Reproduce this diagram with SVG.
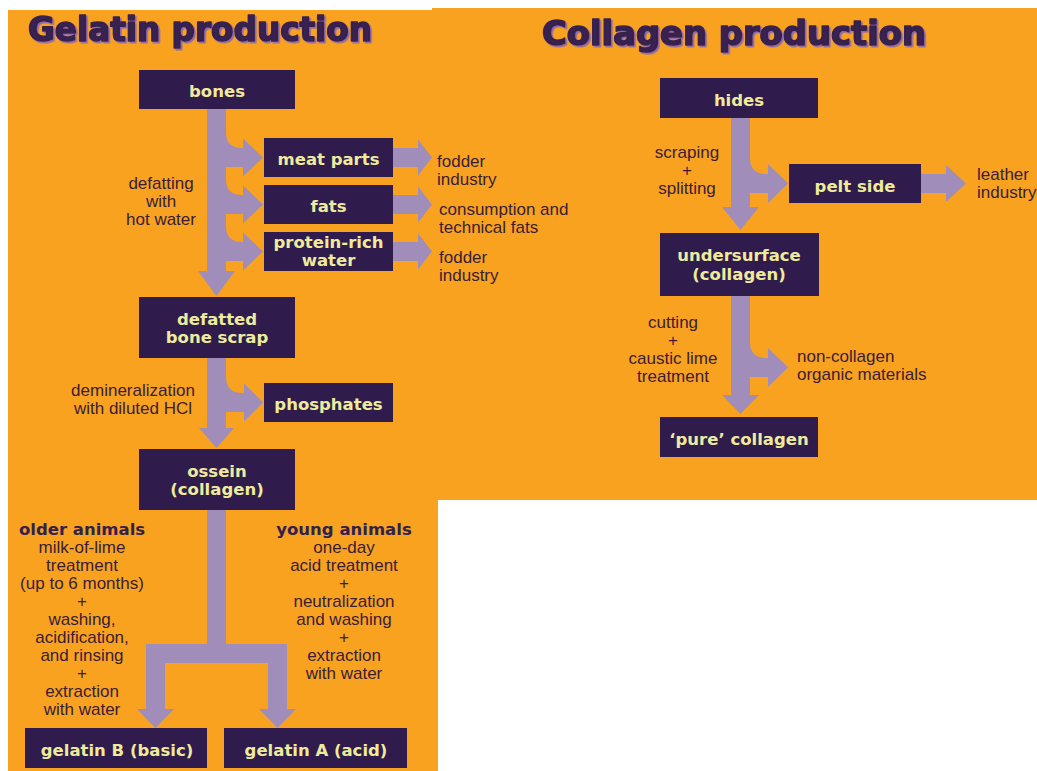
<svg xmlns="http://www.w3.org/2000/svg" width="1037" height="771" viewBox="0 0 1037 771">
<defs>
<style>
.bg{fill:#F8A21F}
.box{fill:#2F1C4C}
.arr{fill:#A08DBA}
.bl{font-family:"DejaVu Sans",sans-serif;font-weight:bold;font-size:16.5px;fill:#EFEB9C;text-anchor:middle}
.lb{font-family:"Liberation Sans",Arial,sans-serif;font-size:17px;fill:#3A1D38}
.mid{text-anchor:middle}
.hd{font-family:"DejaVu Sans",sans-serif;font-weight:bold;font-size:16.5px;fill:#33204F;text-anchor:middle}
.title{font-family:"DejaVu Sans",sans-serif;font-weight:bold;font-size:33px;fill:#38204F;stroke:#38204F;stroke-width:1.6;stroke-linejoin:round;filter:url(#sh)}
</style>
<filter id="sh" x="-5%" y="-20%" width="110%" height="150%">
<feDropShadow dx="1.6" dy="1.6" stdDeviation="0.3" flood-color="#8C68AE" flood-opacity="1"/>
</filter>
</defs>
<rect x="0" y="0" width="1037" height="771" fill="#FFFFFF"/>
<rect class="bg" x="8" y="10" width="430" height="761"/>
<rect class="bg" x="432" y="8" width="605" height="492"/>

<g id="titles">
<text class="title" x="28" y="41" textLength="344" lengthAdjust="spacingAndGlyphs">Gelatin production</text>
<text class="title" x="542" y="45" textLength="384" lengthAdjust="spacingAndGlyphs">Collagen production</text>
</g>

<g id="connectors">
<rect class="arr" x="207" y="109" width="19" height="163"/>
<polygon class="arr" points="198,271 235,271 216.5,296"/>
<path class="arr" d="M226,132 Q226,148 242,148 L244,148 L244,167 L226,167 Z"/>
<polygon class="arr" points="243,138.5 263,157.5 243,176.5"/>
<path class="arr" d="M226,179 Q226,195 242,195 L244,195 L244,214 L226,214 Z"/>
<polygon class="arr" points="243,185.5 263,204.5 243,223.5"/>
<path class="arr" d="M226,226 Q226,242 242,242 L244,242 L244,261 L226,261 Z"/>
<polygon class="arr" points="243,232.5 263,251.5 243,270.5"/>
<rect class="arr" x="393" y="148" width="26" height="19"/>
<polygon class="arr" points="418,139.5 432,157.5 418,175.5"/>
<rect class="arr" x="393" y="195" width="26" height="19"/>
<polygon class="arr" points="418,186.5 432,204.5 418,222.5"/>
<rect class="arr" x="393" y="242" width="26" height="19"/>
<polygon class="arr" points="418,233.5 432,251.5 418,269.5"/>
<rect class="arr" x="207" y="358" width="19" height="71"/>
<polygon class="arr" points="199,428 234,428 216.5,448"/>
<path class="arr" d="M226,376 Q226,393 242,393 L245,393 L245,412 L226,412 Z"/>
<polygon class="arr" points="244,383.5 263,402.5 244,421.5"/>
<rect class="arr" x="207" y="510" width="19" height="140"/>
<rect class="arr" x="146" y="644" width="141" height="19"/>
<rect class="arr" x="146" y="662" width="19" height="48"/>
<polygon class="arr" points="137,709 174,709 155.5,728"/>
<rect class="arr" x="268" y="662" width="19" height="48"/>
<polygon class="arr" points="259,709 296,709 277.5,728"/>
<rect class="arr" x="731" y="118" width="19" height="90"/>
<polygon class="arr" points="722,207 759,207 740.5,230"/>
<path class="arr" d="M750,158 Q750,174 766,174 L769,174 L769,193 L750,193 Z"/>
<polygon class="arr" points="768,164 788,183.5 768,203"/>
<rect class="arr" x="921" y="174" width="26" height="19"/>
<polygon class="arr" points="946,165 966,183.5 946,202"/>
<rect class="arr" x="731" y="296" width="19" height="100"/>
<polygon class="arr" points="722,395 759,395 740.5,414"/>
<path class="arr" d="M750,342 Q750,358 766,358 L769,358 L769,377 L750,377 Z"/>
<polygon class="arr" points="768,348 788,367.5 768,387"/>
</g>

<g id="bones"><rect class="box" x="139" y="70" width="156" height="39"/><text class="bl" x="217" y="97">bones</text></g>
<g id="meat-parts"><rect class="box" x="264" y="138" width="129" height="39"/><text class="bl" x="328.5" y="165">meat parts</text></g>
<g id="fats"><rect class="box" x="264" y="185" width="129" height="39"/><text class="bl" x="328.5" y="212">fats</text></g>
<g id="protein-rich-water"><rect class="box" x="264" y="232" width="129" height="39"/><text class="bl" x="328.5" y="248">protein-rich</text><text class="bl" x="328.5" y="266">water</text></g>
<g id="defatted-bone-scrap"><rect class="box" x="139" y="297" width="156" height="61"/><text class="bl" x="217" y="325">defatted</text><text class="bl" x="217" y="343">bone scrap</text></g>
<g id="phosphates"><rect class="box" x="264" y="383" width="129" height="39"/><text class="bl" x="328.5" y="410">phosphates</text></g>
<g id="ossein"><rect class="box" x="139" y="449" width="156" height="61"/><text class="bl" x="217" y="477">ossein</text><text class="bl" x="217" y="495">(collagen)</text></g>
<g id="gelatin-b"><rect class="box" x="25" y="728" width="182" height="40"/><text class="bl" x="117" y="756">gelatin B (basic)</text></g>
<g id="gelatin-a"><rect class="box" x="224" y="728" width="183" height="40"/><text class="bl" x="316" y="756">gelatin A (acid)</text></g>

<g id="hides"><rect class="box" x="660" y="78" width="158" height="40"/><text class="bl" x="739" y="106">hides</text></g>
<g id="pelt-side"><rect class="box" x="789" y="164" width="132" height="39"/><text class="bl" x="855" y="192">pelt side</text></g>
<g id="undersurface"><rect class="box" x="660" y="233" width="159" height="63"/><text class="bl" x="739" y="261">undersurface</text><text class="bl" x="739" y="280">(collagen)</text></g>
<g id="pure-collagen"><rect class="box" x="660" y="417" width="158" height="40"/><text class="bl" x="739" y="445">‘pure’ collagen</text></g>

<g id="labels">
<text class="lb mid" x="161" y="189">defatting</text>
<text class="lb mid" x="161" y="207">with</text>
<text class="lb mid" x="161" y="225">hot water</text>
<text class="lb" x="437" y="167">fodder</text>
<text class="lb" x="437" y="185">industry</text>
<text class="lb" x="439" y="215">consumption and</text>
<text class="lb" x="439" y="233">technical fats</text>
<text class="lb" x="439" y="263">fodder</text>
<text class="lb" x="439" y="281">industry</text>
<text class="lb mid" x="133" y="396">demineralization</text>
<text class="lb mid" x="133" y="414">with diluted HCl</text>

<text class="hd" x="82" y="535">older animals</text>
<text class="lb mid" x="82" y="553">milk-of-lime</text>
<text class="lb mid" x="82" y="571">treatment</text>
<text class="lb mid" x="82" y="589">(up to 6 months)</text>
<text class="lb mid" x="82" y="607">+</text>
<text class="lb mid" x="82" y="625">washing,</text>
<text class="lb mid" x="82" y="643">acidification,</text>
<text class="lb mid" x="82" y="661">and rinsing</text>
<text class="lb mid" x="82" y="679">+</text>
<text class="lb mid" x="82" y="697">extraction</text>
<text class="lb mid" x="82" y="715">with water</text>

<text class="hd" x="344" y="535">young animals</text>
<text class="lb mid" x="344" y="553">one-day</text>
<text class="lb mid" x="344" y="571">acid treatment</text>
<text class="lb mid" x="344" y="589">+</text>
<text class="lb mid" x="344" y="607">neutralization</text>
<text class="lb mid" x="344" y="625">and washing</text>
<text class="lb mid" x="344" y="643">+</text>
<text class="lb mid" x="344" y="661">extraction</text>
<text class="lb mid" x="344" y="679">with water</text>

<text class="lb mid" x="687" y="158">scraping</text>
<text class="lb mid" x="687" y="176">+</text>
<text class="lb mid" x="687" y="194">splitting</text>
<text class="lb" x="977" y="180">leather</text>
<text class="lb" x="977" y="198">industry</text>
<text class="lb mid" x="673" y="328">cutting</text>
<text class="lb mid" x="673" y="346">+</text>
<text class="lb mid" x="673" y="364">caustic lime</text>
<text class="lb mid" x="673" y="382">treatment</text>
<text class="lb" x="797" y="362">non-collagen</text>
<text class="lb" x="797" y="380">organic materials</text>
</g>
</svg>
